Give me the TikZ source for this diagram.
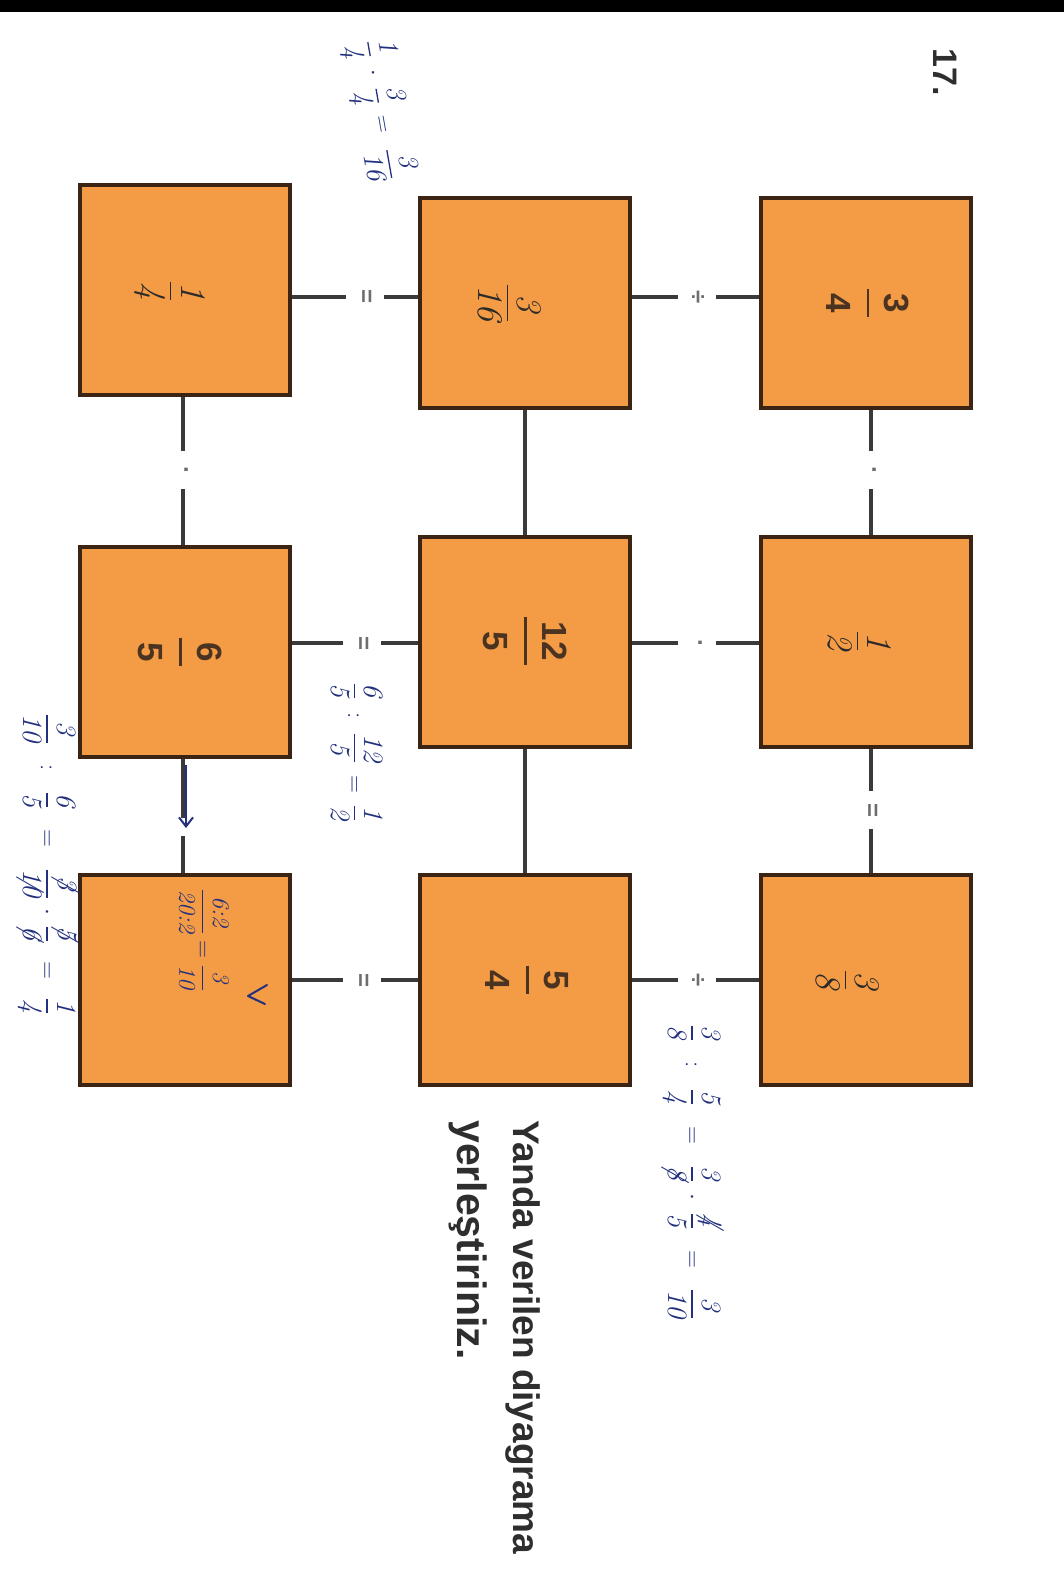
\documentclass[tikz,border=0pt]{standalone}
\usepackage{amsmath}
\usepackage{fontspec}
\newfontfamily\printed{Liberation Sans}
\usetikzlibrary{arrows.meta}
\definecolor{boxfill}{HTML}{F49B45}
\definecolor{boxline}{HTML}{3B2414}
\definecolor{ink}{HTML}{22307E}
\definecolor{pen}{HTML}{2A2A2A}
\definecolor{ptext}{HTML}{4A3320}
\definecolor{conncol}{HTML}{3A3A3A}
\definecolor{opcol}{HTML}{6E6E6E}
\definecolor{headcol}{HTML}{2E2E2E}
\newcommand{\pf}[2]{$\genfrac{}{}{2.6pt}{0}{\text{\hspace{0.13em}#1\hspace{0.13em}\rule[-0.22em]{0pt}{0.5em}}}{\text{\rule{0pt}{0.92em}#2}}$}
\newcommand{\hf}[2]{\genfrac{}{}{1.3pt}{0}{\text{#1}}{\text{#2}}}
\newcommand{\xo}[1]{\ooalign{#1\cr\hidewidth/\hidewidth\cr}}
\newcommand{\gapx}[1]{\hspace{#1pt}}
\begin{document}
\begin{tikzpicture}[x=1pt,y=-1pt,
  cell/.style={draw=boxline, fill=boxfill, line width=4pt, minimum width=210pt, minimum height=210pt, inner sep=0pt},
  link/.style={draw=conncol, line width=3.5pt},
  op/.style={rotate=-90, fill=white, minimum width=38pt, minimum height=38pt, inner sep=0pt, text=opcol, font=\printed\bfseries\fontsize{24}{26}\selectfont},
  pfr/.style={rotate=-90, text=ptext, font=\printed\bfseries\fontsize{35}{40}\selectfont},
  hfr/.style={rotate=-90, text=pen, font=\itshape\fontsize{36}{40}\selectfont},
  note/.style={rotate=-90, text=ink, font=\itshape\fontsize{28}{32}\selectfont},
  head/.style={rotate=-90, text=headcol, inner sep=0pt}]
\fill[white] (0,0) rectangle (1064,1572);
\useasboundingbox (0,0) rectangle (1064,1572);
\fill[black] (0,0) rectangle (1064,12);

% cells
\node[cell] (bL1) at (185,289.5) {};
\node[cell] (bM1) at (525,303) {};
\node[cell] (bR1) at (866,303) {};
\node[cell] (bL2) at (185,652) {};
\node[cell] (bM2) at (525,641.5) {};
\node[cell] (bR2) at (866,641.5) {};
\node[cell] (bL3) at (185,980) {};
\node[cell] (bM3) at (525,980) {};
\node[cell] (bR3) at (866,980) {};

% horizontal connectors
\coordinate (c1) at (365,297);
\coordinate (c2) at (697,297);
\coordinate (c3) at (362,643);
\coordinate (c4) at (697,643);
\coordinate (c5) at (362,980);
\coordinate (c6) at (697,980);
\draw[link] (bL1.east |- c1) -- (bM1.west |- c1);
\draw[link] (bM1.east |- c2) -- (bR1.west |- c2);
\draw[link] (bL2.east |- c3) -- (bM2.west |- c3);
\draw[link] (bM2.east |- c4) -- (bR2.west |- c4);
\draw[link] (bL3.east |- c5) -- (bM3.west |- c5);
\draw[link] (bM3.east |- c6) -- (bR3.west |- c6);
\node[op] (o1) at (c1) {=};
\node[op] (o2) at (c2) {÷};
\node[op] (o3) at (c3) {=};
\node[op] (o4) at (c4) {·};
\node[op] (o5) at (c5) {=};
\node[op] (o6) at (c6) {÷};

% vertical connectors
\coordinate (c7) at (183,470);
\coordinate (c8) at (871,470);
\coordinate (c9) at (871,810);
\draw[link] (c7 |- bL1.south) -- (c7 |- bL2.north);
\draw[link] (c8 |- bR1.south) -- (c8 |- bR2.north);
\draw[link] (c9 |- bR2.south) -- (c9 |- bR3.north);
\draw[link] (bM1.south) -- (bM2.north);
\draw[link] (bM2.south) -- (bM3.north);
\node[op] (o7) at (c7) {·};
\node[op] (o8) at (c8) {·};
\node[op] (o9) at (c9) {=};
\coordinate (g1) at (183,818);
\coordinate (g2) at (183,836);
\draw[link] (g1 |- bL2.south) -- (g1);
\draw[link] (g2) -- (g2 |- bL3.north);

% printed fractions
\node[pfr] (t3) at (868,303) {\pf{3}{4}};
\node[pfr] (t4) at (180,652) {\pf{6}{5}};
\node[pfr] (t5) at (525,641) {\pf{12}{5}};
\node[pfr] (t6) at (527,980) {\pf{5}{4}};

% handwritten in boxes
\node[hfr] (h1) at (170,291) {$\hf{1}{4}$};
\node[hfr] (h2) at (510,303) {$\hf{3}{16}$};
\node[hfr] (h3) at (860,641) {$\hf{1}{2}$};
\node[hfr] (h4) at (848,980) {$\hf{3}{8}$};
\node[note, font=\itshape\fontsize{24}{28}\selectfont] (h5) at (204,940) {$\hf{6{:}2}{20{:}2}\gapx{6}{=}\gapx{6}\hf{3}{10}$};
\draw[ink, line width=2pt, line cap=round, line join=round] (267,985) -- (248,996) -- (265,1004);
\coordinate (a1) at (186,765);
\coordinate (a2) at (186,828);
\draw[ink, line width=2pt, -{Straight Barb[length=9pt,width=14pt]}] (a1) -- (a2);

% handwritten notes outside
\node[note, rotate=10] (n1) at (380,110) {$\hf{1}{4}\gapx{12}{\cdot}\gapx{12}\hf{3}{4}\gapx{12}{=}\gapx{16}\hf{3}{16}$};
\node[note] (n2) at (357,752) {$\hf{6}{5}\gapx{14}{:}\gapx{14}\hf{12}{5}\gapx{12}{=}\gapx{12}\hf{1}{2}$};
\node[note] (n3) at (692,1172) {$\hf{3}{8}\gapx{21}{:}\gapx{21}\hf{5}{4}\gapx{21}{=}\gapx{21}\hf{3}{\xo{8}}\gapx{12}{\cdot}\gapx{12}\hf{\xo{4}}{5}\gapx{21}{=}\gapx{21}\hf{3}{10}$};
\node[note] (n4) at (47,864) {$\hf{3}{10}\gapx{21}{:}\gapx{21}\hf{6}{5}\gapx{21}{=}\gapx{21}\hf{\xo{3}}{\xo{10}}\gapx{10}{\cdot}\gapx{10}\hf{\xo{5}}{\xo{6}}\gapx{19}{=}\gapx{19}\hf{1}{4}$};

% printed headings
\node[head, font=\printed\bfseries\fontsize{34}{40}\selectfont] (num) at (945,72) {17.};
\node[head, anchor=base west, font=\printed\bfseries\fontsize{37}{42}\selectfont] (q1) at (513,1120) {Yanda verilen diyagrama};
\node[head, anchor=base west, font=\printed\bfseries\fontsize{41}{46}\selectfont] (q2) at (457,1120) {yerleştiriniz.};
\end{tikzpicture}
\end{document}
